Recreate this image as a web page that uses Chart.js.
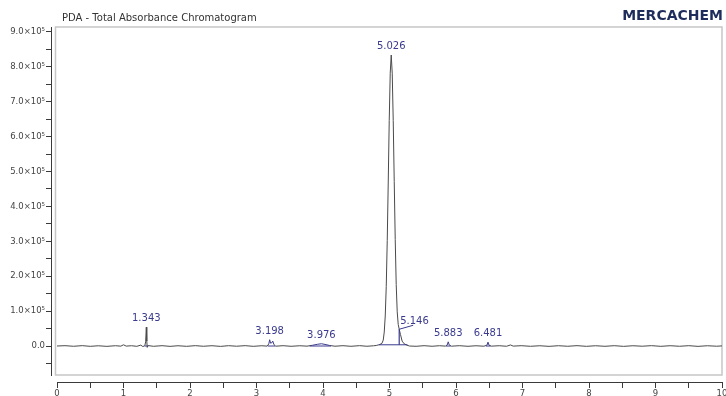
<!DOCTYPE html>
<html>
<head>
<meta charset="utf-8">
<script src="https://cdn.jsdelivr.net/npm/chart.js@4.4.1/dist/chart.umd.min.js"></script>
<style>
  html, body { margin: 0; padding: 0; background: #ffffff; }
  #wrap { width: 726px; height: 396px; position: relative; }
</style>
</head>
<body>
<div id="wrap"><canvas id="chrom" width="726" height="396"></canvas></div>
<script>
// Retention time (min) and detector signal of the PDA total absorbance trace
const times = [
  0.00, 0.12, 0.25, 0.38, 0.50, 0.62, 0.75, 0.88, 0.96, 1.00, 1.04, 1.12, 1.20, 1.26, 1.29, 1.32,
  1.333, 1.343, 1.350, 1.357, 1.37, 1.45, 1.58, 1.70, 1.82, 1.95, 2.08, 2.20, 2.33, 2.46, 2.58,
  2.70, 2.83, 2.95, 3.08, 3.16, 3.185, 3.198, 3.212, 3.228, 3.245, 3.262, 3.29, 3.40, 3.52, 3.65,
  3.76, 3.84, 3.92, 3.976, 4.03, 4.10, 4.18, 4.30, 4.42, 4.55, 4.66, 4.76, 4.80, 4.84, 4.856,
  4.886, 4.906, 4.921, 4.936, 4.951, 4.966, 4.981, 4.996, 5.011, 5.026, 5.041, 5.056, 5.071,
  5.086, 5.101, 5.116, 5.131, 5.146, 5.165, 5.19, 5.22, 5.26, 5.30, 5.40, 5.52, 5.64, 5.75,
  5.84, 5.868, 5.883, 5.898, 5.93, 6.05, 6.18, 6.30, 6.42, 6.466, 6.481, 6.496, 6.53, 6.65,
  6.76, 6.82, 6.86, 6.98, 7.12, 7.26, 7.40, 7.54, 7.68, 7.82, 7.96, 8.10, 8.24, 8.38, 8.52,
  8.66, 8.80, 8.94, 9.08, 9.22, 9.36, 9.50, 9.64, 9.78, 9.92, 10.00
];
const signal = [
  0, 900, -700, 1000, -900, 600, -1000, 800, -400, 3500, -300, 800, -900, 2500, -1500, 500,
  12000, 54000, 14000, -4000, 1200, -800, 900, -1000, 700, -900, 1000, -700, 800, -1100, 900,
  -600, 1000, -900, 700, -300, 6000, 18000, 8000, 9000, 14000, 4000, -500, 900, -800, 700,
  -400, 2000, 5000, 6500, 4500, 1500, -600, 900, -800, 1000, -700, 600, 1500, 3500, 4500,
  7500, 17000, 40000, 86000, 170000, 302000, 470000, 646000, 782000, 834000, 782000, 646000, 472000,
  305000, 176000, 98000, 62000, 48000, 33000, 14000, 6500, 2500, 0, -800, 900, -700, 800,
  -300, 3000, 12000, 3000, -500, 900, -800, 700, -600, 2500, 11000, 2500, -400, 800,
  -700, 3000, -300, 900, -800, 700, -1000, 800, -700, 1000, -900, 700, -800, 900, -1000,
  700, -600, 1000, -900, 800, -700, 900, -1000, 700, -600, 300
];

// Integrated peaks: apex retention time, apex height, and whether it is a shoulder
const peakTimes   = [1.343, 3.198, 3.976, 5.026, 5.146, 5.883, 6.481];
const peakHeights = [54000, 18000, 6500, 834000, 48000, 12000, 11000];
const peakKind    = ['peak', 'peak', 'peak', 'peak', 'shoulder', 'peak', 'peak'];

// Integration baselines (start, end, level)
const intStart = [1.32, 3.17, 3.80, 4.84, 5.85, 6.45];
const intEnd   = [1.37, 3.28, 4.12, 5.27, 5.92, 6.52];
const intLevel = [0, 0, 0, 3500, 0, 0];

// Axis ranges and ticks
const xRange = [0, 10];
const yRange = [-83100, 914300];
const xTickStep = 0.5;
const yTickValues = [-50000, 0, 50000, 100000, 150000, 200000, 250000, 300000, 350000, 400000,
  450000, 500000, 550000, 600000, 650000, 700000, 750000, 800000, 850000, 900000];
const yTickLabels = ['', '0.0', '', '1.0×10⁵', '', '2.0×10⁵', '', '3.0×10⁵', '', '4.0×10⁵',
  '', '5.0×10⁵', '', '6.0×10⁵', '', '7.0×10⁵', '', '8.0×10⁵', '', '9.0×10⁵'];

const NAVY = '#3a3a8e';
const TRACE = '#4a4a4a';
const AXIS = '#3a3a3a';

const tracePoints = times.map((t, i) => ({ x: t, y: signal[i] }));
const coloredWindows = intStart.map((s, i) => [s, intEnd[i]]).filter((w, i) => intLevel[i] === 0 && i > 0);

const datasets = [{
  label: 'Total absorbance',
  data: tracePoints,
  borderColor: TRACE,
  borderWidth: 1,
  pointRadius: 0,
  tension: 0,
  segment: {
    borderColor: c => {
      const a = c.p0.parsed.x, b = c.p1.parsed.x;
      return coloredWindows.some(w => a >= w[0] && b <= w[1]) ? NAVY : TRACE;
    }
  },
  order: 2
}];

intStart.forEach((s, i) => {
  datasets.push({
    label: 'baseline ' + i,
    data: [{ x: s, y: intLevel[i] }, { x: intEnd[i], y: intLevel[i] }],
    borderColor: NAVY, borderWidth: 1, pointRadius: 0, order: 1
  });
});

// Drop line separating the shoulder from the main peak
peakKind.forEach((k, i) => {
  if (k !== 'shoulder') return;
  datasets.push({
    label: 'drop ' + i,
    data: [{ x: peakTimes[i], y: intLevel[3] }, { x: peakTimes[i], y: peakHeights[i] }],
    borderColor: NAVY, borderWidth: 1.2, pointRadius: 0, order: 1
  });
});

// Moves the axis lines slightly away from the plot frame
const axisGap = {
  id: 'axisGap',
  afterLayout(chart) {
    const { x, y } = chart.scales;
    x.top += 7; x.bottom += 7;
    y.left -= 6; y.right -= 6;
  }
};

const frameAndTitle = {
  id: 'frameAndTitle',
  beforeDatasetsDraw(chart) {
    const { ctx, chartArea: a } = chart;
    ctx.save();
    ctx.strokeStyle = '#c6c6c6';
    ctx.lineWidth = 1.5;
    ctx.strokeRect(a.left - 1.5, a.top, a.right - a.left + 1.5, a.bottom - a.top);
    ctx.restore();
  },
  afterDraw(chart) {
    const { ctx } = chart;
    ctx.save();
    ctx.fillStyle = '#333333';
    ctx.font = '10px "DejaVu Sans"';
    ctx.textBaseline = 'alphabetic';
    ctx.textAlign = 'left';
    ctx.fillText('PDA - Total Absorbance Chromatogram', 62, 21);
    ctx.fillStyle = '#1f2d5c';
    ctx.font = 'bold 14px "DejaVu Sans"';
    ctx.textAlign = 'right';
    ctx.fillText('MERCACHEM', 723, 19.5);
    ctx.restore();
  }
};

const peakLabels = {
  id: 'peakLabels',
  afterDatasetsDraw(chart) {
    const { ctx, scales: { x, y } } = chart;
    ctx.save();
    ctx.font = '10px "DejaVu Sans"';
    ctx.fillStyle = NAVY;
    ctx.strokeStyle = NAVY;
    ctx.lineWidth = 1;
    ctx.textBaseline = 'alphabetic';
    peakTimes.forEach((t, i) => {
      const px = x.getPixelForValue(t);
      const py = y.getPixelForValue(peakHeights[i]);
      const txt = t.toFixed(3);
      if (peakKind[i] === 'shoulder') {
        ctx.beginPath();
        ctx.moveTo(px, py);
        ctx.lineTo(px + 14, py - 4);
        ctx.stroke();
        ctx.textAlign = 'left';
        ctx.fillText(txt, px + 1, py - 5);
      } else {
        ctx.textAlign = 'center';
        ctx.fillText(txt, px, py - 6);
      }
    });
    ctx.restore();
  }
};

new Chart(document.getElementById('chrom'), {
  type: 'line',
  data: { datasets },
  options: {
    responsive: false,
    animation: false,
    events: [],
    layout: { padding: { top: 27, right: 4, left: 0, bottom: 0 } },
    plugins: { legend: { display: false }, tooltip: { enabled: false }, title: { display: false } },
    elements: { point: { radius: 0 }, line: { tension: 0 } },
    scales: {
      x: {
        type: 'linear',
        min: xRange[0], max: xRange[1],
        afterFit(s) { s.height = 21; s.paddingLeft = 0; s.paddingRight = 0; },
        border: { display: true, color: AXIS, width: 1 },
        grid: { drawOnChartArea: false, drawTicks: true, tickLength: 6, tickColor: AXIS },
        ticks: {
          stepSize: xTickStep, autoSkip: false, maxRotation: 0, padding: 1,
          color: '#444444', font: { family: 'DejaVu Sans', size: 8.5 },
          callback: v => (Math.abs(v - Math.round(v)) < 1e-6 ? String(Math.round(v)) : '')
        }
      },
      y: {
        type: 'linear',
        min: yRange[0], max: yRange[1],
        afterBuildTicks(s) { s.ticks = yTickValues.map(v => ({ value: v })); },
        afterFit(s) { s.width = 57; s.paddingTop = 0; s.paddingBottom = 0; },
        border: { display: true, color: AXIS, width: 1 },
        grid: { drawOnChartArea: false, drawTicks: true, tickLength: 5, tickColor: AXIS },
        ticks: {
          autoSkip: false, padding: 1,
          color: '#444444', font: { family: 'DejaVu Sans', size: 8.5 },
          callback: (v, i) => yTickLabels[i]
        }
      }
    }
  },
  plugins: [axisGap, frameAndTitle, peakLabels]
});
</script>
</body>
</html>
